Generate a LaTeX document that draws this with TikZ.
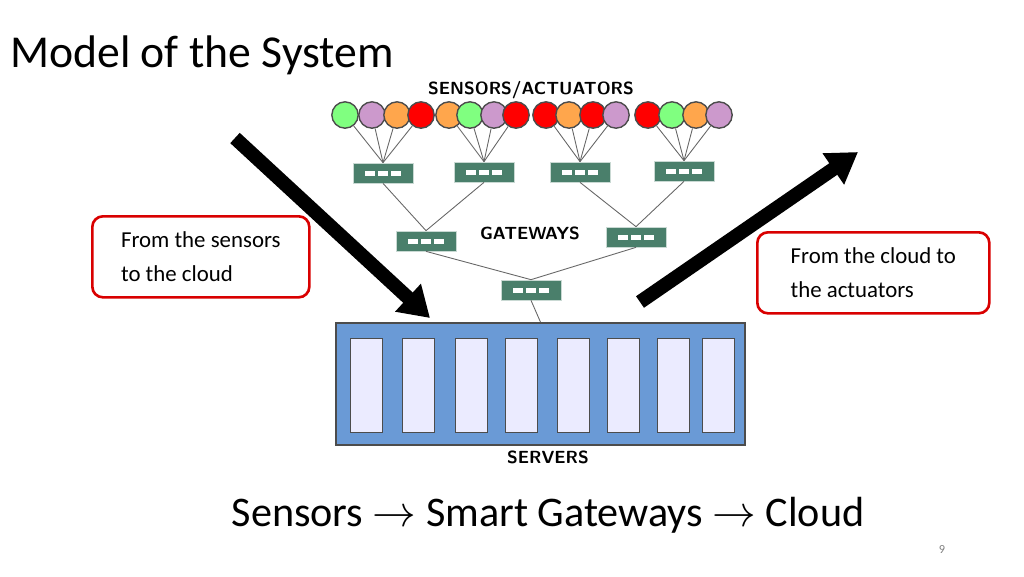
\documentclass[tikz,border=0pt]{standalone}
\usepackage{fontspec}
\setmainfont{Carlito}
\usetikzlibrary{arrows.meta}
\definecolor{swgreen}{HTML}{4A7F6B}
\definecolor{srvblue}{HTML}{6A9AD6}
\newdimen\ulen
\ulen=0.02cm
\tikzset{
  sensor/.style={circle,draw=black!70,line width=0.8pt,minimum size=15pt,inner sep=0pt},
  switch/.style={rectangle,draw=white!70!swgreen,fill=swgreen,minimum width=60\ulen,minimum height=20\ulen,inner sep=0pt,
    path picture={\foreach \k in {-1,0,1}{\fill[white] ([xshift=\k*13\ulen-5\ulen,yshift=-2.5\ulen]path picture bounding box.center) rectangle ++(10\ulen,5\ulen);}}},
  link/.style={draw=black!60,line width=0.5pt},
  bigarrow/.style={line width=0.28cm,-{Triangle[length=0.6cm,width=0.72cm]}},
  note/.style={draw=red!85!black,line width=1.5pt,rounded corners=6pt,align=left,font=\fontsize{13}{19}\selectfont,inner sep=4pt,anchor=north west},
  heading/.style={font=\sffamily\bfseries\fontsize{10}{12}\selectfont}
}
\begin{document}
\begin{tikzpicture}[x=0.02cm,y=-0.02cm]
  \useasboundingbox (0,0) rectangle (1024,576);

  % title
  \node[anchor=west,font=\fontsize{26}{30}\selectfont] (title) at (4,55) {Model of the System};

  % sensors
  \foreach \x/\c [count=\i] in {345/green!50,372/violet!40,397/orange!70,421/red,
      449/orange!70,470/green!50,494/violet!40,516/red,
      546/red,569/orange!70,593/red,616/violet!40,
      648/red,672/green!50,696/orange!70,719/violet!40}
    \node[sensor,fill=\c] (s\i) at (\x,115) {};

  % gateways
  \node[switch] (g1) at (383,173) {};
  \node[switch] (g2) at (484,172) {};
  \node[switch] (g3) at (580,172) {};
  \node[switch] (g4) at (684,171) {};
  \node[switch] (h1) at (426,241) {};
  \node[switch] (h2) at (636,237) {};
  \node[switch] (root) at (531,290) {};

  % links
  \foreach \i in {1,...,4} \draw[link] (s\i) -- (g1.north);
  \foreach \i in {5,...,8} \draw[link] (s\i) -- (g2.north);
  \foreach \i in {9,...,12} \draw[link] (s\i) -- (g3.north);
  \foreach \i in {13,...,16} \draw[link] (s\i) -- (g4.north);
  \draw[link] (g1.south) -- (h1.north);
  \draw[link] (g2.south) -- (h1.north);
  \draw[link] (g3.south) -- (h2.north);
  \draw[link] (g4.south) -- (h2.north);
  \draw[link] (h1.south) -- (root.north);
  \draw[link] (h2.south) -- (root.north);

  % servers
  \node[draw=black!70,fill=srvblue,line width=1pt,minimum width=409\ulen,minimum height=122\ulen,inner sep=0pt] (servers) at (540.5,384) {};
  \draw[link] (root.south) -- (servers.north);
  \foreach \x in {350,402,455,505,557,607,657,702}
    \draw[black!70,fill=white!92!blue] (\x,338) rectangle ++(32,94);

  % labels
  \node[heading] (lsens) at (531,90) {SENSORS/ACTUATORS};
  \node[heading] (lgw) at (530,233) {GATEWAYS};
  \node[heading] (lsrv) at (548,457) {SERVERS};

  % big arrows
  \coordinate (a1) at (235,138);
  \coordinate (a2) at (430,318);
  \coordinate (b1) at (640,302);
  \coordinate (b2) at (858,152);
  \draw[bigarrow] (a1) -- (a2);
  \draw[bigarrow] (b1) -- (b2);

  % notes
  \node[note,minimum width=217\ulen,minimum height=81\ulen] (up) at (91,215) {From the sensors\\to the cloud};
  \node[note,minimum width=232\ulen,minimum height=81\ulen] (down) at (756,231) {From the cloud to\\the actuators};

  % bottom line
  \node[font=\fontsize{24}{28}\selectfont] (chain) at (548,515) {Sensors $\rightarrow$ Smart Gateways $\rightarrow$ Cloud};
  \node[font=\fontsize{7}{8}\selectfont,text=black!50] (page) at (942,549) {9};
\end{tikzpicture}
\end{document}
